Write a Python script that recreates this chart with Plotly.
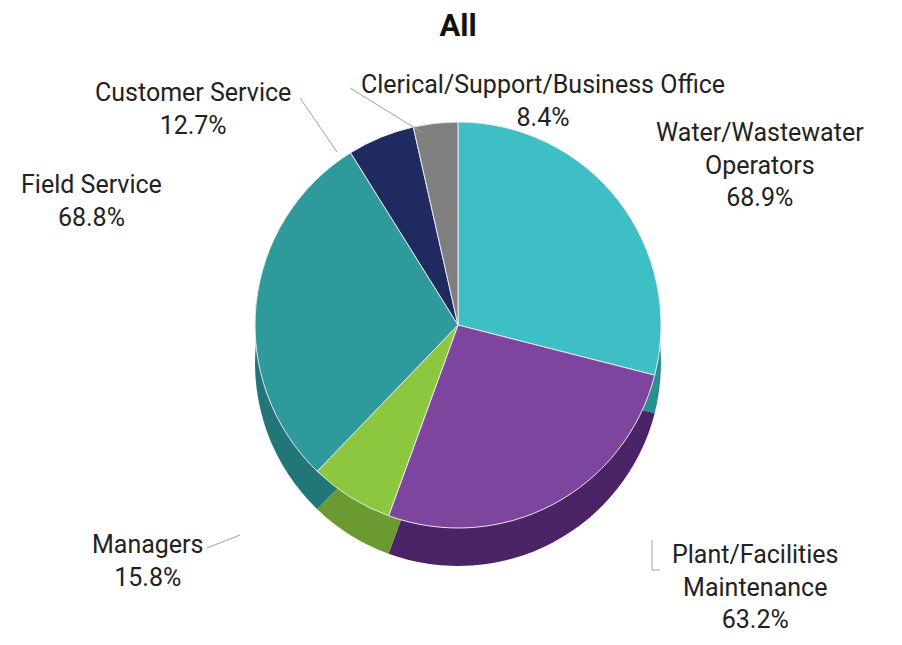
"""Pie chart of staffing categories (All)."""

import plotly.graph_objects as go

# Data
categories = [
    "Water/Wastewater<br>Operators",
    "Plant/Facilities<br>Maintenance",
    "Managers",
    "Field Service",
    "Customer Service",
    "Clerical/Support/Business Office",
]
percentages = [68.9, 63.2, 15.8, 68.8, 12.7, 8.4]

top_colors = ["#3dbfc5", "#7e459e", "#8dc63f", "#2e9a9c", "#1f2a60", "#7f7f7f"]
side_colors = ["#2a8f93", "#4a2466", "#6a9a30", "#237678", "#141c42", "#5c5c5c"]

W, H = 894, 637
PAGE_OFFSET = 8  # the html body margin
FONT = "Roboto, Arial, sans-serif"


def px_x(x):
    return (x - PAGE_OFFSET) / W


def px_y(y):
    return 1 - (y - PAGE_OFFSET) / H


# Pie geometry in screen pixels
cx, cy, r, depth = 458, 325, 203, 38
x_half = 0.3
x_dom = [px_x(cx) - x_half, px_x(cx) + x_half]

fig = go.Figure()

# Darker copy shifted down gives the pie some depth
fig.add_trace(go.Pie(
    labels=categories,
    values=percentages,
    sort=False,
    direction="clockwise",
    rotation=0,
    marker={"colors": side_colors, "line": {"color": "#ffffff", "width": 0}},
    textinfo="none",
    hoverinfo="skip",
    domain={"x": x_dom, "y": [px_y(cy + depth + r), px_y(cy + depth - r)]},
    showlegend=False,
))

fig.add_trace(go.Pie(
    labels=categories,
    values=percentages,
    sort=False,
    direction="clockwise",
    rotation=0,
    marker={"colors": top_colors, "line": {"color": "#e8e8f0", "width": 1}},
    textinfo="none",
    hovertemplate="%{label}: %{value}%<extra></extra>",
    domain={"x": x_dom, "y": [px_y(cy + r), px_y(cy - r)]},
    showlegend=False,
))

# Label positions (screen pixel centre of the first line) for each category
label_pos = [(760, 133), (755, 555), (148, 545), (91, 185), (193, 93), (543, 85)]
for name, val, (lx, ly) in zip(categories, percentages, label_pos):
    fig.add_annotation(
        text=f"{name}<br>{val:.1f}%",
        x=px_x(lx), y=px_y(ly - 17),
        xref="paper", yref="paper",
        xanchor="center", yanchor="top",
        showarrow=False,
        align="center",
        font={"family": FONT, "size": 25, "color": "#222222"},
    )

# Leader lines
leaders = [
    [(300, 98), (337, 152)],
    [(350, 88), (423, 133)],
    [(207, 548), (240, 535)],
    [(660, 570), (652, 570), (652, 540)],
]
for pts in leaders:
    path = "M " + " L ".join(f"{px_x(x)},{px_y(y)}" for x, y in pts)
    fig.add_shape(
        type="path", path=path, xref="paper", yref="paper",
        line={"color": "#a0a0a0", "width": 1},
    )

fig.update_layout(
    title={
        "text": "<b>All</b>",
        "x": px_x(458), "xanchor": "center",
        "y": px_y(25), "yanchor": "middle",
        "font": {"family": FONT, "size": 31, "color": "#111111"},
    },
    width=W,
    height=H,
    margin={"l": 0, "r": 0, "t": 0, "b": 0},
    paper_bgcolor="#ffffff",
    plot_bgcolor="#ffffff",
)

fig.write_html("out.html")
